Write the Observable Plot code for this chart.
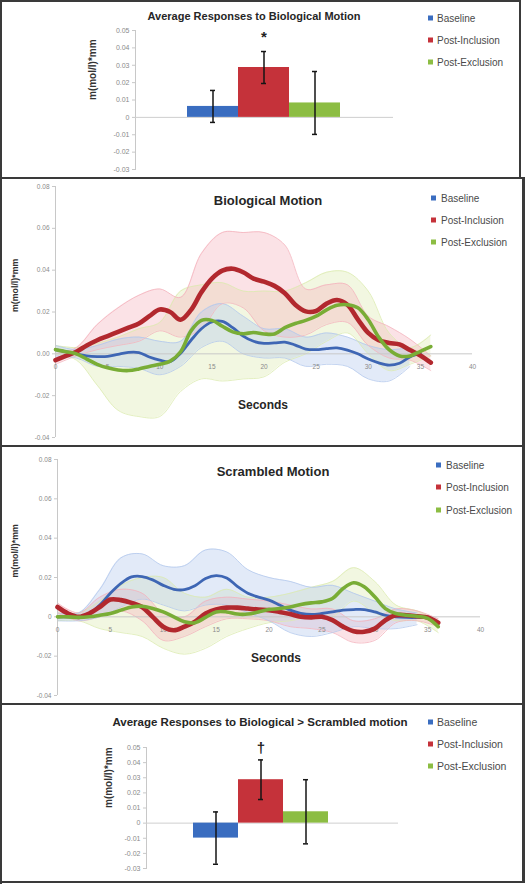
<!DOCTYPE html>
<html><head><meta charset="utf-8">
<script src="https://cdn.jsdelivr.net/npm/d3@7"></script>
<script src="https://cdn.jsdelivr.net/npm/@observablehq/plot@0.6"></script>
<style>
body{margin:0;background:#fff;}
#page{position:relative;width:525px;height:885px;overflow:hidden;font-family:"Liberation Sans",Arial,sans-serif;background:#fff;}
.panel{position:absolute;left:0;}
.panel svg{display:block;}
.bd{position:absolute;background:#3a3a3a;}
.title{position:absolute;font-weight:bold;color:#262626;transform:translate(-50%,-50%);white-space:nowrap;}
.lg{position:absolute;white-space:nowrap;color:#4a4a4a;transform:translateY(-50%);}
.sw{position:absolute;width:5px;height:5px;transform:translateY(-50%);}
</style>
</head><body><div id="page"></div>
<script>
// ---------- data ----------
const groups = ["Baseline", "Post-Inclusion", "Post-Exclusion"];
const barColors = ["#3A6DC0", "#C5323A", "#8CBD43"];
const lineColors = ["#3E66B4", "#B2282E", "#79AD36"];
const bandColors = ["#B3C8EC", "#F4B3BD", "#DCEBB0"];

// Panel 1: average responses to biological motion
const bioAvg = [0.0063, 0.0287, 0.0083];
const bioErr = [0.0092, 0.0092, 0.0181];
const bioMark = ["", "*", ""];

// Panel 4: biological > scrambled
const diffAvg = [-0.0099, 0.0287, 0.0075];
const diffErr = [0.0173, 0.0131, 0.0212];
const diffMark = ["", "\u2020", ""];

const barTicks = [0.05, 0.04, 0.03, 0.02, 0.01, 0, -0.01, -0.02, -0.03];
const lineTicks = [0.08, 0.06, 0.04, 0.02, 0, -0.02, -0.04];
const secondTicks = [0, 5, 10, 15, 20, 25, 30, 35, 40];

const seconds = [0,1,2,3,4,5,6,7,8,9,10,11,12,13,14,15,16,17,18,19,20,21,22,23,24,25,26,27,28,29,30,31,32,33,34,35,36];
const bandSeconds = [0,2,4,6,8,10,12,14,16,18,20,22,24,26,28,30,32,34,36];

// Panel 2: Biological Motion time courses
const bioBaseline = [0.002,0.001,0.0,-0.001,-0.0013,-0.0012,-0.0002,0.0007,0.0006,-0.0015,-0.003,-0.0037,0.0003,0.0065,0.012,0.0152,0.0155,0.0125,0.0085,0.006,0.005,0.0052,0.0056,0.0042,0.0023,0.002,0.0025,0.0028,0.0018,0.0,-0.0025,-0.0043,-0.0054,-0.0045,-0.0015,0.0003,null];
const bioInclusion = [-0.003,-0.001,0.001,0.004,0.0065,0.0085,0.0105,0.0125,0.0145,0.018,0.0212,0.02,0.0163,0.021,0.0295,0.036,0.0398,0.0407,0.039,0.036,0.0345,0.0325,0.029,0.0235,0.0203,0.0205,0.024,0.0257,0.0235,0.0165,0.01,0.0065,0.0052,0.0045,0.0018,-0.0008,-0.0042];
const bioExclusion = [0.002,0.001,0.0,-0.0025,-0.005,-0.0067,-0.0077,-0.008,-0.0072,-0.006,-0.005,-0.0035,0.001,0.011,0.016,0.016,0.0132,0.0105,0.0096,0.0102,0.0095,0.0095,0.0125,0.0145,0.016,0.018,0.021,0.0232,0.0235,0.022,0.0163,0.008,0.002,-0.001,-0.001,0.0012,0.0035];
const bioBaselineHi = [0.004,0.002,0.004,0.007,0.008,0.006,0.006,0.02,0.024,0.018,0.012,0.012,0.008,0.01,0.008,0.004,0.002,0.003,null];
const bioBaselineLo = [-0.001,-0.002,-0.006,-0.006,-0.007,-0.01,-0.006,0.003,0.006,0.0,-0.002,-0.002,-0.006,-0.005,-0.006,-0.012,-0.013,-0.006,null];
const bioInclusionHi = [0.0,0.003,0.014,0.022,0.028,0.031,0.027,0.048,0.058,0.058,0.058,0.052,0.031,0.033,0.033,0.018,0.013,0.007,-0.001];
const bioInclusionLo = [-0.005,-0.001,0.002,0.004,0.006,0.011,0.008,0.012,0.024,0.022,0.011,0.008,0.009,0.014,0.015,0.004,-0.002,-0.003,-0.008];
const bioExclusionHi = [0.004,0.003,0.005,0.008,0.012,0.015,0.03,0.033,0.034,0.03,0.03,0.03,0.034,0.039,0.039,0.03,0.01,0.003,0.009];
const bioExclusionLo = [0.0,-0.003,-0.015,-0.027,-0.03,-0.03,-0.018,-0.012,-0.013,-0.012,-0.011,-0.004,0.0,0.006,0.01,0.0,-0.008,-0.005,-0.001];

// Panel 3: Scrambled Motion time courses
const scrBaseline = [0.0,0.0,0.0,0.0017,0.006,0.012,0.017,0.0203,0.0205,0.0188,0.016,0.014,0.0138,0.0158,0.0195,0.021,0.0198,0.0155,0.012,0.01,0.0085,0.006,0.0034,0.0018,0.0012,0.0017,0.0025,0.0034,0.0037,0.0037,0.0025,0.0008,0.0,-0.0003,-0.0003,0.0,null];
const scrInclusion = [0.005,0.0017,0.0,0.0017,0.005,0.0088,0.0085,0.0071,0.005,0.0,-0.005,-0.0068,-0.005,-0.0025,0.0017,0.0037,0.0047,0.0047,0.0042,0.0037,0.0034,0.0025,0.0014,0.0,-0.0003,0.0,-0.0017,-0.005,-0.0073,-0.0076,-0.006,-0.0017,0.0008,0.0008,0.0003,-0.0003,-0.003];
const scrExclusion = [0.0,0.0,-0.0003,0.0,0.0008,0.0017,0.0034,0.005,0.0054,0.0042,0.0025,0.0,-0.0025,-0.003,-0.0003,0.0025,0.0025,0.0014,0.0014,0.0025,0.0037,0.0042,0.005,0.0063,0.0071,0.0076,0.0093,0.0144,0.0173,0.0153,0.0102,0.0042,0.0017,0.0008,0.0003,-0.0008,-0.005];
const scrBaselineHi = [0.002,0.002,0.014,0.03,0.032,0.026,0.026,0.034,0.033,0.024,0.02,0.018,0.015,0.016,0.012,0.008,0.004,0.002,null];
const scrBaselineLo = [-0.002,-0.002,0.0,0.005,0.009,0.006,0.003,0.006,0.006,0.002,-0.002,-0.008,-0.01,-0.008,-0.005,-0.006,-0.006,-0.004,null];
const scrInclusionHi = [0.007,0.002,0.01,0.014,0.012,0.002,0.0,0.008,0.01,0.009,0.008,0.006,0.004,0.004,-0.002,-0.001,0.004,0.003,-0.001];
const scrInclusionLo = [0.002,-0.002,0.0,0.003,-0.002,-0.012,-0.01,-0.005,-0.001,-0.001,-0.002,-0.005,-0.006,-0.008,-0.013,-0.012,-0.003,-0.002,-0.005];
const scrExclusionHi = [0.002,0.002,0.008,0.016,0.02,0.02,0.012,0.01,0.014,0.01,0.01,0.012,0.015,0.018,0.025,0.018,0.006,0.003,-0.002];
const scrExclusionLo = [-0.002,-0.002,-0.006,-0.008,-0.01,-0.016,-0.019,-0.016,-0.01,-0.006,-0.003,-0.002,0.0,0.0,0.008,0.002,-0.002,-0.002,-0.008];

// ---------- helpers ----------
const page = document.getElementById("page");
const FONT = "'Liberation Sans', Arial, sans-serif";
const fmtBar = d => d === 0 ? "0" : d.toFixed(2);
const fmtLine2 = d => d.toFixed(2);
const fmtLine3 = d => d === 0 ? "0" : d.toFixed(2);

function place(node, top) {
  const w = document.createElement("div");
  w.className = "panel"; w.style.top = top + "px";
  w.appendChild(node); page.appendChild(w);
}
function addDiv(cls, css, text) {
  const d = document.createElement("div");
  d.className = cls; Object.assign(d.style, css);
  if (text != null) d.textContent = text;
  page.appendChild(d); return d;
}
function addTitle(text, x, y, size) {
  addDiv("title", {left: x + "px", top: y + "px", fontSize: size + "px"}, text);
}
function addLegend(xs, xt, ys, size) {
  groups.forEach((g, i) => {
    addDiv("sw", {left: xs + "px", top: ys[i] + "px", background: barColors[i]});
    addDiv("lg", {left: xt + "px", top: ys[i] + "px", fontSize: size + "px"}, g);
  });
}

function barPanel(o) {
  const rows = groups.map((g, i) => ({group: g, v: o.values[i], e: o.errs[i], m: o.marks[i]}));
  return Plot.plot({
    width: 525, height: o.height,
    marginTop: o.mt, marginBottom: o.mb, marginLeft: o.ml, marginRight: o.mr,
    style: {fontFamily: FONT, fontSize: "7px", color: "#8a8a8a", background: "transparent"},
    x: {domain: groups, range: o.xRange, padding: 0, axis: null},
    y: {domain: [-0.03, 0.05], axis: null},
    color: {domain: groups, range: barColors},
    marks: [
      Plot.axisY({ticks: barTicks, tickFormat: fmtBar, tickSize: 3, tickPadding: 3, stroke: "#c8c8c8", label: null}),
      Plot.frame({anchor: "left", stroke: "#c8c8c8"}),
      Plot.ruleY([0], {stroke: "#cfcfcf"}),
      Plot.barY(rows, {x: "group", y: "v", fill: "group"}),
      Plot.ruleX(rows, {x: "group", y1: d => d.v - d.e, y2: d => d.v + d.e, stroke: "#151515", strokeWidth: 1.5}),
      Plot.tickY(rows, {x: "group", y: d => d.v + d.e, stroke: "#151515", strokeWidth: 1.5, inset: o.capInset}),
      Plot.tickY(rows, {x: "group", y: d => d.v - d.e, stroke: "#151515", strokeWidth: 1.5, inset: o.capInset}),
      Plot.text(rows, {x: "group", y: d => d.v + d.e, text: "m", dy: o.markDy, fontSize: o.markSize, fontWeight: "bold", fill: "#222"}),
      Plot.text(["m(mol/l)*mm"], {frameAnchor: "left", rotate: -90, dx: o.labelDx, fontSize: o.labelSize, fontWeight: "bold", fill: "#333"})
    ]
  });
}

function toLong(series) {
  const out = [];
  series.forEach((arr, i) => arr.forEach((v, j) => { if (v != null) out.push({t: seconds[j], v, g: groups[i]}); }));
  return out;
}
function toBands(his, los) {
  return his.map((hi, i) => bandSeconds.map((t, j) => ({t, hi: hi[j], lo: los[i][j], g: groups[i]})).filter(d => d.hi != null));
}

function linePanel(o) {
  const long = toLong(o.series);
  const bands = toBands(o.his, o.los);
  const widths = [2.8, 4.6, 3.6];
  const drawBand = [2, 1, 0];
  return Plot.plot({
    width: 525, height: o.height,
    marginTop: o.mt, marginBottom: o.mb, marginLeft: o.ml, marginRight: o.mr,
    style: {fontFamily: FONT, fontSize: "6.5px", color: "#8a8a8a", background: "transparent"},
    x: {domain: [0, 40], axis: null},
    y: {domain: [-0.04, 0.08], axis: null},
    marks: [
      ...drawBand.map(i => Plot.areaY(bands[i], {x: "t", y1: "lo", y2: "hi", fill: bandColors[i], fillOpacity: 0.38, curve: "catmull-rom"})),
      ...drawBand.map(i => Plot.lineY(bands[i], {x: "t", y: "hi", stroke: bandColors[i], strokeWidth: 0.8, curve: "catmull-rom"})),
      ...drawBand.map(i => Plot.lineY(bands[i], {x: "t", y: "lo", stroke: bandColors[i], strokeWidth: 0.8, curve: "catmull-rom"})),
      Plot.axisY({ticks: lineTicks, tickFormat: o.fmt, tickSize: 3, tickPadding: 3, stroke: "#c8c8c8", label: null}),
      Plot.ruleX([0], {stroke: "#c8c8c8"}),
      Plot.ruleY([0], {stroke: "#c8c8c8"}),
      Plot.text(secondTicks, {x: d => d, y: 0, dy: 13, text: d => String(d), fill: "#8a8a8a"}),
      ...[0, 1, 2].map(i => Plot.line(long.filter(d => d.g === groups[i]), {x: "t", y: "v", stroke: lineColors[i], strokeWidth: widths[i], curve: "catmull-rom"})),
      Plot.text(["m(mol/l)*mm"], {frameAnchor: "left", rotate: -90, dx: o.labelDx, fontSize: 8.8, fontWeight: "bold", fill: "#333"})
    ]
  });
}

// ---------- panels ----------
place(barPanel({values: bioAvg, errs: bioErr, marks: bioMark, height: 178, mt: 30, mb: 9, ml: 135, mr: 132,
  xRange: [187, 340], capInset: 23, markDy: -14, markSize: 15, labelDx: -43, labelSize: 10}), 0);
addTitle("Average Responses to Biological Motion", 254, 16, 11);
addLegend(428, 437, [18, 40, 62], 10);

place(linePanel({series: [bioBaseline, bioInclusion, bioExclusion], his: [bioBaselineHi, bioInclusionHi, bioExclusionHi],
  los: [bioBaselineLo, bioInclusionLo, bioExclusionLo], height: 266, mt: 6, mb: 9, ml: 55, mr: 53, fmt: fmtLine2, labelDx: -40}), 180);
addTitle("Biological Motion", 268, 200, 13);
addTitle("Seconds", 263, 405, 12);
addLegend(431, 441, [198, 220, 242], 10);

place(linePanel({series: [scrBaseline, scrInclusion, scrExclusion], his: [scrBaselineHi, scrInclusionHi, scrExclusionHi],
  los: [scrBaselineLo, scrInclusionLo, scrExclusionLo], height: 258, mt: 13, mb: 9, ml: 57, mr: 45, fmt: fmtLine3, labelDx: -42}), 446);
addTitle("Scrambled Motion", 273, 471, 13);
addTitle("Seconds", 276, 658, 12);
addLegend(436, 446, [465, 487, 510], 10);

place(barPanel({values: diffAvg, errs: diffErr, marks: diffMark, height: 178, mt: 43, mb: 14, ml: 146, mr: 127,
  xRange: [193, 328], capInset: 20, markDy: -12, markSize: 15, labelDx: -38, labelSize: 10}), 704);
addTitle("Average Responses to Biological > Scrambled motion", 260, 722, 11.5);
addLegend(428, 437, [722, 744, 766], 10.5);

// ---------- panel borders ----------
[[0,0,521,2],[0,0,2,884],[519,0,2,179],[0,177,525,2],[522,177,3,706],
 [0,445,525,2],[0,703,525,2],[0,881,525,2]].forEach(([l,t,w,h]) =>
  addDiv("bd", {left: l+"px", top: t+"px", width: w+"px", height: h+"px"}));
</script></body></html>
